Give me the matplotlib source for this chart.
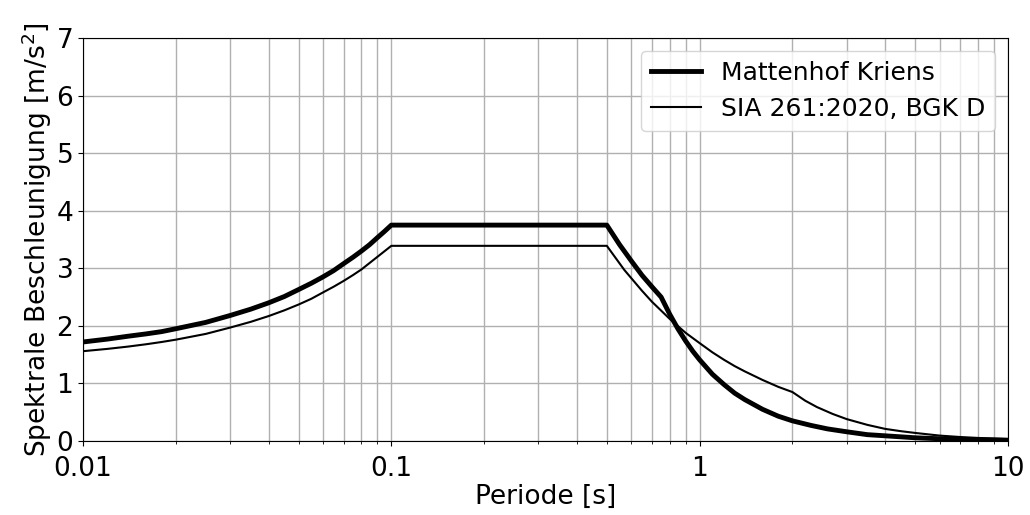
import matplotlib
matplotlib.use("Agg")
import matplotlib.pyplot as plt

# Mattenhof Kriens (site specific spectrum)
periods_mk = [0.01, 0.012, 0.014, 0.016, 0.018, 0.02, 0.025, 0.03, 0.035,
              0.04, 0.045, 0.05, 0.055, 0.06, 0.065, 0.07, 0.075, 0.08,
              0.085, 0.09, 0.095, 0.1,
              0.5, 0.55, 0.6, 0.65, 0.7, 0.75,
              0.8, 0.85, 0.9, 0.95, 1.0, 1.1, 1.2, 1.3, 1.4, 1.6, 1.8, 2.0,
              2.3, 2.6, 3.0, 3.5, 4.0, 5.0, 6.0, 7.0, 8.0, 10.0]
accel_mk = [1.72, 1.77, 1.82, 1.86, 1.90, 1.95, 2.06, 2.18, 2.29,
            2.40, 2.51, 2.63, 2.74, 2.85, 2.96, 3.08, 3.19, 3.30,
            3.41, 3.53, 3.64, 3.75,
            3.75, 3.41, 3.13, 2.88, 2.68, 2.50,
            2.20, 1.95, 1.74, 1.56, 1.41, 1.16, 0.98, 0.83, 0.72, 0.55, 0.43, 0.35,
            0.27, 0.21, 0.16, 0.11, 0.09, 0.056, 0.039, 0.029, 0.022, 0.014]

# SIA 261:2020, Baugrundklasse D
periods_sia = [0.01, 0.012, 0.014, 0.016, 0.018, 0.02, 0.025, 0.03, 0.035,
               0.04, 0.045, 0.05, 0.055, 0.06, 0.065, 0.07, 0.075, 0.08, 0.1,
               0.5, 0.57, 0.65, 0.7, 0.8, 0.9, 1.0, 1.1, 1.2, 1.3, 1.4, 1.6,
               1.8, 2.0,
               2.2, 2.4, 2.7, 3.0, 3.5, 4.0, 4.5, 5.0, 6.0, 7.0, 8.0, 10.0]
accel_sia = [1.56, 1.60, 1.64, 1.68, 1.72, 1.76, 1.86, 1.97, 2.07,
             2.17, 2.27, 2.37, 2.47, 2.58, 2.68, 2.78, 2.88, 2.98, 3.39,
             3.39, 2.97, 2.61, 2.42, 2.12, 1.88, 1.70, 1.54, 1.41, 1.30, 1.21, 1.06,
             0.94, 0.85,
             0.70, 0.59, 0.47, 0.38, 0.28, 0.21, 0.17, 0.14, 0.094, 0.069, 0.053, 0.034]

plt.rcParams["font.size"] = 19

fig = plt.figure(figsize=(10.3, 5.15), dpi=100)
ax = fig.add_axes([0.0806, 0.1437, 0.898, 0.7825])

ax.plot(periods_mk, accel_mk, color="black", linewidth=3.5, label="Mattenhof Kriens")
ax.plot(periods_sia, accel_sia, color="black", linewidth=1.5, label="SIA 261:2020, BGK D")

ax.set_xscale("log")
ax.set_xlim(0.01, 10)
ax.set_ylim(0, 7)
ax.set_xticks([0.01, 0.1, 1, 10])
ax.set_xticklabels(["0.01", "0.1", "1", "10"])
ax.tick_params(axis="x", which="major", pad=7)
ax.grid(True, which="both", color="#b0b0b0", linewidth=1.0)

ax.set_xlabel("Periode [s]", labelpad=2)
ax.set_ylabel("Spektrale Beschleunigung [m/s$^2$]", labelpad=2)
ax.legend(loc="upper right", fontsize=18)

fig.savefig("out.png")
